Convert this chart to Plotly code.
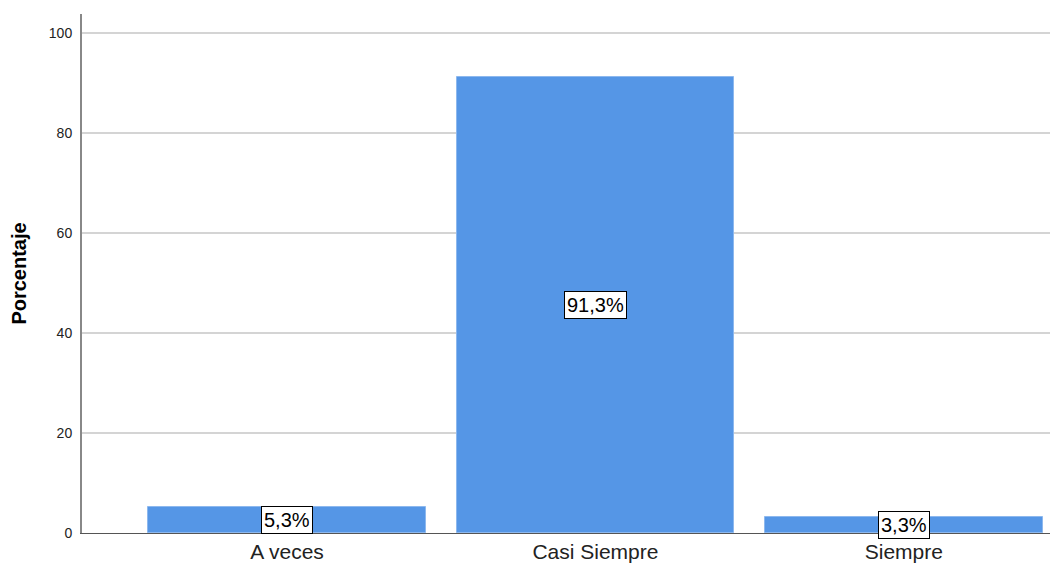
import plotly.graph_objects as go

categories = ["A veces", "Casi Siempre", "Siempre"]
values = [5.3, 91.3, 3.3]
labels = ["5,3%", "91,3%", "3,3%"]
y_ticks = [0, 20, 40, 60, 80, 100]

fig = go.Figure()
fig.add_trace(go.Bar(
    x=categories, y=values, width=0.9,
    marker=dict(color="#5596E6", line=dict(color="#8DB8EE", width=1)),
    hoverinfo="skip",
))

for c, v, t in zip(categories, values, labels):
    fig.add_annotation(
        x=c, y=v / 2, text=t, showarrow=False,
        font=dict(family="Liberation Sans, Arial", size=20, color="black"),
        bgcolor="white", bordercolor="black", borderwidth=1, borderpad=2,
    )

fig.update_layout(
    width=1050, height=555,
    margin=dict(l=74, r=0, t=6, b=30),
    paper_bgcolor="white", plot_bgcolor="white",
    showlegend=False,
    font=dict(family="Liberation Sans, Arial", color="black"),
    bargap=0,
)
fig.update_xaxes(
    range=[-0.665, 2.5], showgrid=False, showline=True, linecolor="#555555", linewidth=1,
    tickfont=dict(size=21, color="#222222"), ticks="", ticklabelstandoff=0,
    automargin=False,
)
fig.update_yaxes(
    range=[0, 103.8], tickvals=y_ticks, showgrid=True, gridcolor="#D4D4D4", gridwidth=2,
    showline=True, linecolor="#888888", linewidth=2, zeroline=False,
    tickfont=dict(size=14, color="#222222"), ticks="", ticklabelstandoff=5,
    title=dict(text="<b>Porcentaje</b>", font=dict(size=20, color="black"), standoff=25),
    automargin=False,
)

fig.write_html("out.html")
